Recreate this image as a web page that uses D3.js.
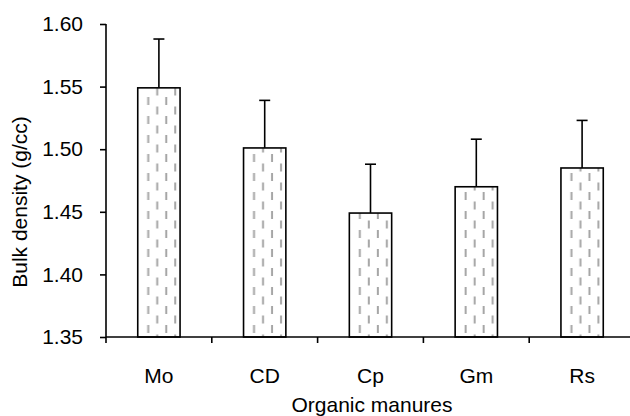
<!DOCTYPE html>
<html>
<head>
<meta charset="utf-8">
<script src="https://cdn.jsdelivr.net/npm/d3@7"></script>
<style>
  html, body { margin: 0; padding: 0; background: #fff; }
  svg { display: block; }
  text { font-family: "Liberation Sans", Arial, sans-serif; fill: #000; }
</style>
</head>
<body>
<svg id="chart" width="630" height="416"></svg>
<script>
// Bulk density under different organic manures, with error bars
const categories = ["Mo", "CD", "Cp", "Gm", "Rs"];
const bulkDensity = [1.549, 1.501, 1.449, 1.470, 1.485];
const errors = [0.039, 0.038, 0.039, 0.038, 0.038];
const yTicks = [1.35, 1.40, 1.45, 1.50, 1.55, 1.60];

const svg = d3.select("#chart");
const plotLeft = 106, plotTop = 24, plotBottom = 337;
const bandW = 105.8;
const fontSize = "21px";

const x = d3.scaleBand()
  .domain(categories)
  .range([plotLeft, plotLeft + bandW * categories.length])
  .paddingInner(0).paddingOuter(0);

const y = d3.scaleLinear().domain([1.35, 1.60]).range([plotBottom, plotTop]);

// fill: four columns of staggered grey vertical dashes per bar
const defs = svg.append("defs");
const barW = x.bandwidth() * 0.4;
const dashCols = [10.5, 19.5, 28.5, 37.5];
const period = 19, dashLen = 8;

categories.forEach((c, i) => {
  const bx = x(c) + (x.bandwidth() - barW) / 2;
  const p = defs.append("pattern")
    .attr("id", "dash" + i)
    .attr("patternUnits", "userSpaceOnUse")
    .attr("x", bx).attr("y", 0)
    .attr("width", barW).attr("height", period);
  p.append("rect").attr("width", barW).attr("height", period).attr("fill", "#fff");
  dashCols.forEach((cx, k) => {
    const y0 = (k % 2 === 0) ? 2 : 2 + period / 2;
    [y0 - period, y0].forEach((s) => {
      p.append("line").attr("x1", cx).attr("x2", cx)
        .attr("y1", s).attr("y2", s + dashLen)
        .attr("stroke", "#a6a6a6").attr("stroke-width", 2);
    });
  });
});

// error bars (drawn first, the bar outline covers the base)
const eb = svg.append("g").attr("stroke", "#000").attr("stroke-width", 1.6);
categories.forEach((c, i) => {
  const cx = x(c) + x.bandwidth() / 2;
  eb.append("line").attr("x1", cx).attr("x2", cx)
    .attr("y1", y(bulkDensity[i])).attr("y2", y(bulkDensity[i] + errors[i]));
  eb.append("line").attr("x1", cx - 5.5).attr("x2", cx + 5.5)
    .attr("y1", y(bulkDensity[i] + errors[i])).attr("y2", y(bulkDensity[i] + errors[i]));
});

// bars
svg.append("g").selectAll("rect").data(categories).join("rect")
  .attr("x", (c) => x(c) + (x.bandwidth() - barW) / 2)
  .attr("y", (c, i) => y(bulkDensity[i]))
  .attr("width", barW)
  .attr("height", (c, i) => y(1.35) - y(bulkDensity[i]))
  .attr("fill", (c, i) => "url(#dash" + i + ")")
  .attr("stroke", "#000").attr("stroke-width", 1.6);

// y axis
const yAxis = d3.axisLeft(y).tickValues(yTicks).tickFormat(d3.format(".2f"))
  .tickSize(6).tickPadding(17);
const gy = svg.append("g").attr("transform", `translate(${plotLeft},0)`).call(yAxis);
gy.selectAll("line, path").attr("stroke", "#000").attr("stroke-width", 1.6);
gy.select(".domain").attr("d", `M0,${plotTop}V${plotBottom}`);
gy.selectAll("text").style("font-size", fontSize)
  .style("font-family", "Liberation Sans, Arial, sans-serif");

// x axis: ticks at category boundaries
const gx = svg.append("g").attr("transform", `translate(0,${plotBottom})`);
gx.append("line").attr("x1", plotLeft).attr("x2", 630)
  .attr("stroke", "#000").attr("stroke-width", 1.6);
const bounds = categories.map((c) => x(c));
gx.selectAll(".tk").data(bounds).join("line").attr("class", "tk")
  .attr("x1", (d) => d).attr("x2", (d) => d).attr("y1", 0).attr("y2", 6)
  .attr("stroke", "#000").attr("stroke-width", 1.6);
gx.selectAll(".lab").data(categories).join("text").attr("class", "lab")
  .attr("x", (c) => x(c) + x.bandwidth() / 2)
  .attr("y", 46)
  .attr("text-anchor", "middle")
  .style("font-size", fontSize)
  .text((c) => c);

// axis titles
svg.append("text")
  .attr("x", 372).attr("y", 412)
  .attr("text-anchor", "middle")
  .style("font-size", fontSize)
  .text("Organic manures");

svg.append("text")
  .attr("transform", "translate(27,202) rotate(-90)")
  .attr("text-anchor", "middle")
  .style("font-size", fontSize)
  .text("Bulk density (g/cc)");
</script>
</body>
</html>
